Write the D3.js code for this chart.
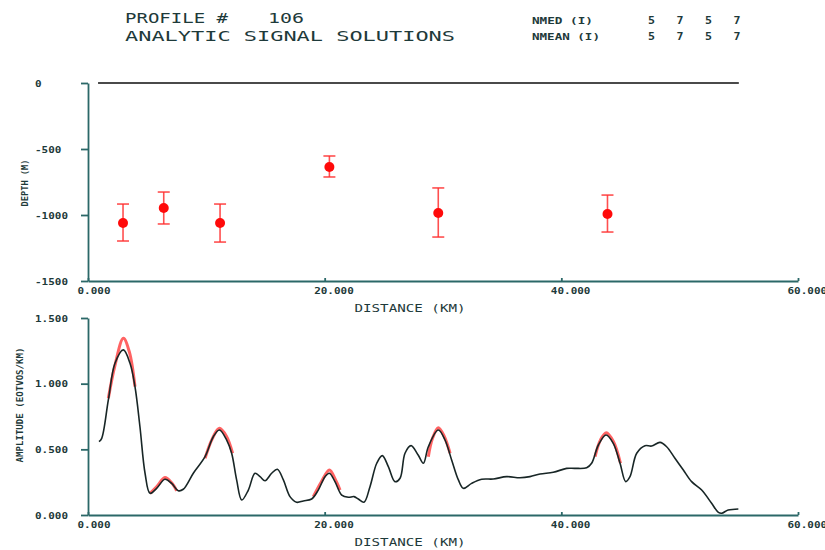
<!DOCTYPE html>
<html>
    <head>
        <meta charset="utf-8">
        <title>Profile 106</title>
        <style>
body {
    margin: 0;
    background-color: white;
}

svg {
    display: block;
    background-color: white;
}

.axis path, .axis line {
    stroke: #2b6868;
    stroke-width: 1.8;
}

.axis text {
    font-family: 'DejaVu Sans Mono', monospace;
    font-size: 9px;
    font-weight: bold;
    fill: #1e3a3a;
}

.label {
    font-family: 'DejaVu Sans Mono', monospace;
    fill: #1e3a3a;
}
</style>
        <script src="https://cdn.jsdelivr.net/npm/d3@7"></script>
    </head>
    <body>
        <script>
// header numbers
var nmed = [5, 7, 5, 7];
var nmean = [5, 7, 5, 7];

// solutions (distance km, depth m, error bar top / bottom)
var solDist = [2.96, 6.4, 11.16, 20.4, 29.6, 43.9];
var solDepth = [-1061, -947, -1061, -636, -985, -992];
var solTop = [-917, -826, -917, -553, -795, -849];
var solBottom = [-1197, -1068, -1205, -712, -1167, -1129];

// surface line
var surfaceDist = [0.85, 55];

// ticks
var xTicks = [0, 20, 40, 60];
var depthTicks = [0, -500, -1000, -1500];
var ampTicks = [0, 0.5, 1.0, 1.5];

// observed analytic signal
var ampDist = [0.93, 1.16, 1.72, 2.28, 2.99, 3.55, 3.97, 4.39, 4.82, 5.24, 5.8, 6.5, 7.07, 7.63, 8.05,
    8.9, 9.89, 10.59, 11.1, 11.72, 12.14, 12.56, 12.99, 13.55, 14.11, 14.54, 14.96, 15.52, 16.0,
    16.51, 17.07, 17.63, 18.2, 18.9, 19.46, 20.03, 20.4, 20.87, 21.44, 22.0, 22.48, 22.84, 23.32,
    23.83, 24.4, 24.87, 25.38, 25.94, 26.37, 26.79, 27.3, 27.9, 28.34, 28.76, 29.6, 30.17, 30.73,
    31.3, 31.72, 32.42, 33.27, 34.25, 35.38, 36.5, 37.35, 38.2, 39.32, 40.45, 41.16, 42.14, 42.56,
    43.13, 43.78, 44.39, 44.96, 45.44, 45.8, 46.37, 47.07, 47.63, 48.34, 48.9, 49.6, 50.31, 51.01,
    51.86, 52.7, 53.27, 53.55, 54.1, 54.96];
var ampVal = [0.558, 0.584, 0.876, 1.155, 1.257, 1.155, 0.977, 0.672, 0.318, 0.165, 0.203, 0.272, 0.241, 0.185, 0.196,
    0.318, 0.444, 0.596, 0.647, 0.571, 0.47, 0.267, 0.114, 0.19, 0.318, 0.292, 0.261, 0.318, 0.348,
    0.267, 0.14, 0.097, 0.107, 0.122, 0.19, 0.292, 0.318, 0.254, 0.152, 0.135, 0.14, 0.122, 0.097,
    0.216, 0.394, 0.452, 0.368, 0.254, 0.28, 0.47, 0.528, 0.457, 0.394, 0.52, 0.647, 0.571, 0.419,
    0.267, 0.203, 0.241, 0.272, 0.274, 0.292, 0.284, 0.292, 0.312, 0.325, 0.355, 0.355, 0.36, 0.394,
    0.533, 0.609, 0.546, 0.394, 0.254, 0.292, 0.47, 0.528, 0.525, 0.553, 0.52, 0.432, 0.343, 0.254,
    0.19, 0.089, 0.02, 0.013, 0.038, 0.046];

// computed fits around each solution
var fitDist = [
    [1.72, 2.28, 2.99, 3.5, 3.97],
    [5.24, 5.8, 6.5, 7.07, 7.49],
    [9.89, 10.5, 11.1, 11.7, 12.22],
    [19.04, 19.7, 20.4, 20.9, 21.3],
    [28.76, 29.1, 29.6, 30.1, 30.6],
    [42.85, 43.3, 43.8, 44.4, 45.0]
];
var fitAmp = [
    [0.889, 1.14, 1.345, 1.24, 0.977],
    [0.165, 0.215, 0.285, 0.245, 0.185],
    [0.432, 0.58, 0.66, 0.6, 0.47],
    [0.14, 0.25, 0.343, 0.27, 0.19],
    [0.444, 0.58, 0.665, 0.6, 0.47],
    [0.444, 0.57, 0.627, 0.56, 0.394]
];

var width = 825,
    height = 550;

var svg = d3.select('body')
    .append('svg')
    .attr('width', width)
    .attr('height', height);

var x = d3.scaleLinear().domain([0, 60]).range([88, 798]);
var yDepth = d3.scaleLinear().domain([-1500, 0]).range([281, 83]);
var yAmp = d3.scaleLinear().domain([0, 1.5]).range([515, 318]);

// header
svg.append('text').attr('class', 'label')
    .attr('x', 125).attr('y', 23)
    .style('font-size', '14px')
    .attr('textLength', 103).attr('lengthAdjust', 'spacingAndGlyphs')
    .text('PROFILE #');
svg.append('text').attr('class', 'label')
    .attr('x', 268).attr('y', 23)
    .style('font-size', '14px')
    .attr('textLength', 36).attr('lengthAdjust', 'spacingAndGlyphs')
    .text('106');
svg.append('text').attr('class', 'label')
    .attr('x', 125).attr('y', 41)
    .style('font-size', '14px')
    .attr('textLength', 330).attr('lengthAdjust', 'spacingAndGlyphs')
    .text('ANALYTIC SIGNAL SOLUTIONS');

var rows = [['NMED (I)', nmed, 23.5], ['NMEAN (I)', nmean, 40]];
rows.forEach(function (r) {
    svg.append('text').attr('class', 'label')
        .attr('x', 532).attr('y', r[2])
        .style('font-size', '9px').style('font-weight', 'bold')
        .attr('textLength', r[0] === 'NMED (I)' ? 61 : 68).attr('lengthAdjust', 'spacingAndGlyphs')
        .text(r[0]);
    svg.selectAll(null).data(r[1]).enter()
        .append('text').attr('class', 'label')
        .attr('x', function (d, i) { return 648 + i * 28.5; })
        .attr('y', r[2])
        .style('font-size', '10px').style('font-weight', 'bold')
        .attr('textLength', 7).attr('lengthAdjust', 'spacingAndGlyphs')
        .text(function (d) { return d; });
});

// axes helpers
var styleYAxis = function (g) {
    g.selectAll('text')
        .attr('x', 35 - 88)
        .attr('dy', '0.35em')
        .style('text-anchor', 'start')
        .attr('textLength', function (d) { return this.textContent.length * 6.6; })
        .attr('lengthAdjust', 'spacingAndGlyphs');
};
var styleXAxis = function (g) {
    g.selectAll('text')
        .attr('x', -11)
        .attr('y', 7)
        .style('text-anchor', 'start')
        .attr('textLength', function (d) { return this.textContent.length * 6.6; })
        .attr('lengthAdjust', 'spacingAndGlyphs');
};

// top panel
svg.append('g').attr('class', 'axis')
    .attr('transform', 'translate(88,0)')
    .call(d3.axisLeft(yDepth).tickValues(depthTicks).tickSize(7).tickSizeOuter(0)
        .tickFormat(function (d) { return String(d); }))
    .call(styleYAxis);

svg.append('g').attr('class', 'axis')
    .attr('transform', 'translate(0,281)')
    .call(d3.axisBottom(x).tickValues(xTicks).tickSizeInner(-3).tickSizeOuter(0)
        .tickFormat(d3.format('.3f')))
    .call(styleXAxis);

svg.append('line')
    .attr('x1', x(surfaceDist[0])).attr('x2', x(surfaceDist[1]))
    .attr('y1', yDepth(0)).attr('y2', yDepth(0))
    .style('stroke', '#4a4a4a')
    .style('stroke-width', 2);

var sols = solDist.map(function (d, i) {
    return {x: d, y: solDepth[i], top: solTop[i], bottom: solBottom[i]};
});

var bars = svg.append('g')
    .style('stroke', '#ff3030')
    .style('stroke-width', 1.6)
    .style('stroke-opacity', 0.85);

bars.selectAll('.stem').data(sols).enter().append('line')
    .attr('x1', function (d) { return x(d.x); })
    .attr('x2', function (d) { return x(d.x); })
    .attr('y1', function (d) { return yDepth(d.top); })
    .attr('y2', function (d) { return yDepth(d.bottom); });
bars.selectAll('.capTop').data(sols).enter().append('line')
    .attr('x1', function (d) { return x(d.x) - 6; })
    .attr('x2', function (d) { return x(d.x) + 6; })
    .attr('y1', function (d) { return yDepth(d.top); })
    .attr('y2', function (d) { return yDepth(d.top); });
bars.selectAll('.capBot').data(sols).enter().append('line')
    .attr('x1', function (d) { return x(d.x) - 6; })
    .attr('x2', function (d) { return x(d.x) + 6; })
    .attr('y1', function (d) { return yDepth(d.bottom); })
    .attr('y2', function (d) { return yDepth(d.bottom); });

svg.selectAll('circle').data(sols).enter().append('circle')
    .attr('cx', function (d) { return x(d.x); })
    .attr('cy', function (d) { return yDepth(d.y); })
    .attr('r', 5)
    .style('fill', '#ff0a0a');

svg.append('text').attr('class', 'label')
    .attr('x', 410).attr('y', 312)
    .style('font-size', '11px')
    .style('text-anchor', 'middle')
    .attr('textLength', 111).attr('lengthAdjust', 'spacingAndGlyphs')
    .text('DISTANCE (KM)');

svg.append('text').attr('class', 'label')
    .attr('transform', 'translate(28,183) rotate(-90)')
    .style('font-size', '8px').style('font-weight', 'bold')
    .style('text-anchor', 'middle')
    .attr('textLength', 47).attr('lengthAdjust', 'spacingAndGlyphs')
    .text('DEPTH (M)');

// bottom panel
svg.append('g').attr('class', 'axis')
    .attr('transform', 'translate(88,0)')
    .call(d3.axisLeft(yAmp).tickValues(ampTicks).tickSize(7).tickSizeOuter(0)
        .tickFormat(d3.format('.3f')))
    .call(styleYAxis);

svg.append('g').attr('class', 'axis')
    .attr('transform', 'translate(0,515)')
    .call(d3.axisBottom(x).tickValues(xTicks).tickSizeInner(-3).tickSizeOuter(0)
        .tickFormat(d3.format('.3f')))
    .call(styleXAxis);

var line = d3.line()
    .x(function (d) { return x(d[0]); })
    .y(function (d) { return yAmp(d[1]); })
    .curve(d3.curveCatmullRom);

fitDist.forEach(function (seg, k) {
    svg.append('path')
        .datum(seg.map(function (d, i) { return [d, fitAmp[k][i]]; }))
        .attr('d', line)
        .style('fill', 'none')
        .style('stroke', '#ff4848')
        .style('stroke-opacity', 0.85)
        .style('stroke-width', 3);
});

svg.append('path')
    .datum(ampDist.map(function (d, i) { return [d, ampVal[i]]; }))
    .attr('d', line)
    .style('fill', 'none')
    .style('stroke', '#182626')
    .style('stroke-width', 1.6);

svg.append('text').attr('class', 'label')
    .attr('x', 410).attr('y', 546)
    .style('font-size', '11px')
    .style('text-anchor', 'middle')
    .attr('textLength', 111).attr('lengthAdjust', 'spacingAndGlyphs')
    .text('DISTANCE (KM)');

svg.append('text').attr('class', 'label')
    .attr('transform', 'translate(23,405) rotate(-90)')
    .style('font-size', '8px').style('font-weight', 'bold')
    .style('text-anchor', 'middle')
    .attr('textLength', 115).attr('lengthAdjust', 'spacingAndGlyphs')
    .text('AMPLITUDE (EOTVOS/KM)');

        </script>
    </body>
</html>
